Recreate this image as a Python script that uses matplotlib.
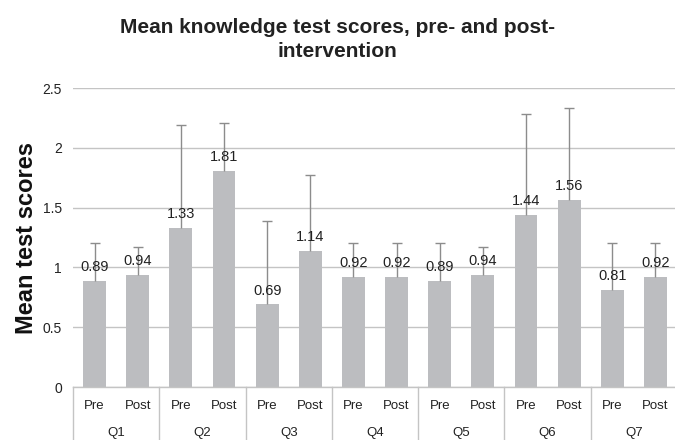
import matplotlib.pyplot as plt
import numpy as np

plt.rcParams['font.family'] = ['Liberation Sans', 'DejaVu Sans']

questions = ['Q1', 'Q2', 'Q3', 'Q4', 'Q5', 'Q6', 'Q7']
phases = ['Pre', 'Post']
means = [0.89, 0.94, 1.33, 1.81, 0.69, 1.14, 0.92, 0.92, 0.89, 0.94, 1.44, 1.56, 0.81, 0.92]
err_tops = [1.20, 1.17, 2.19, 2.21, 1.39, 1.77, 1.20, 1.20, 1.20, 1.17, 2.28, 2.33, 1.20, 1.20]

bar_color = '#bcbdc0'
line_color = '#8c8c8c'
grid_color = '#c4c4c4'

fig = plt.figure(figsize=(6.75, 4.4), dpi=100)
ax = fig.add_axes([73 / 675, 1 - 387 / 440, (677 - 73) / 675, (387 - 88) / 440])

x = np.arange(len(means))
upper = np.array(err_tops) - np.array(means)
yerr = [np.zeros(len(means)), upper]

ax.bar(x, means, width=0.53, color=bar_color, zorder=2)
eb = ax.errorbar(x, means, yerr=yerr, fmt='none', ecolor=line_color, elinewidth=1,
                 capsize=3.5, capthick=1, zorder=3)
eb[1][0].set_visible(False)   # only plus side, no cap on the bar top

for xi, m in zip(x, means):
    ax.annotate('%.2f' % m, (xi, m), xytext=(0, 5), textcoords='offset points',
                ha='center', va='bottom', fontsize=10.5, color='#222222', zorder=4)

ax.set_xlim(-0.5, len(means) - 0.5)
ax.set_ylim(0, 2.5)
ax.set_yticks([0, 0.5, 1, 1.5, 2, 2.5])
ax.set_yticklabels(['0', '0.5', '1', '1.5', '2', '2.5'], fontsize=10, color='#222222')
ax.tick_params(axis='y', length=0, pad=8)
ax.yaxis.grid(True, color=grid_color, lw=1, zorder=0)
ax.set_axisbelow(True)

for s in ['top', 'right', 'left']:
    ax.spines[s].set_visible(False)
ax.spines['bottom'].set_color(grid_color)
ax.spines['bottom'].set_linewidth(1)

# two-level category axis
ax.set_xticks([])
trans = ax.get_xaxis_transform()
for i in range(len(questions) + 1):
    ax.plot([i * 2 - 0.5, i * 2 - 0.5], [0, -0.2], transform=trans, color=grid_color,
            lw=1, clip_on=False)
for xi in x:
    ax.text(xi, -19 / 299, phases[xi % 2], transform=trans, ha='center', va='center',
            fontsize=9.5, color='#222222')
for i, q in enumerate(questions):
    ax.text(i * 2 + 0.5, -46 / 299, q, transform=trans, ha='center', va='center',
            fontsize=9.5, color='#222222')

ax.set_ylabel('Mean test scores', fontsize=17, fontweight='bold', color='#111111')
ax.yaxis.set_label_coords(-0.058, 0.5)

fig.suptitle('Mean knowledge test scores, pre- and post-\nintervention', x=0.5, y=0.958,
             fontsize=15, fontweight='bold', color='#222222', linespacing=1.3)

fig.savefig('out.png', dpi=100)
